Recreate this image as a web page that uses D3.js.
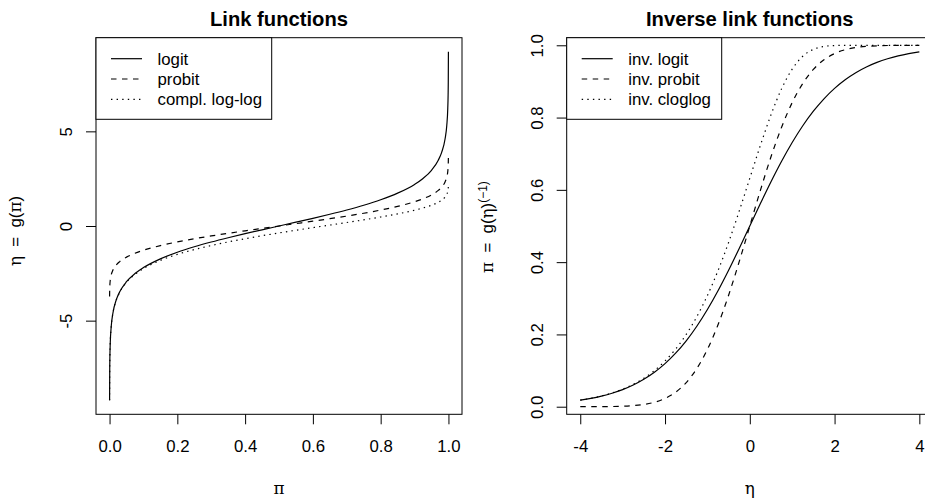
<!DOCTYPE html>
<html>
<head>
<meta charset="utf-8">
<script src="https://cdn.jsdelivr.net/npm/d3@7"></script>
<style>
  body { margin: 0; background: #fff; overflow: hidden; }
  svg { display: block; font-family: "Liberation Sans", Arial, sans-serif; }
  .ylab { white-space: pre; }
</style>
</head>
<body>
<script>
// valeurs de pi (panneau gauche)
const piVals = [0.0001, 0.0005, 0.001, 0.002, 0.005, 0.01, 0.02, 0.03, 0.05, 0.075, 0.1, 0.15, 0.2, 0.25, 0.3, 0.35, 0.4, 0.45, 0.5,
  0.55, 0.6, 0.65, 0.7, 0.75, 0.8, 0.85, 0.9, 0.925, 0.95, 0.97, 0.98, 0.99, 0.995, 0.998, 0.999, 0.9995, 0.9999];
const logitVals = [-9.2102, -7.6004, -6.9068, -6.2126, -5.2933, -4.5951, -3.8918, -3.4761, -2.9444, -2.5123, -2.1972, -1.7346, -1.3863, -1.0986, -0.8473, -0.6190, -0.4055, -0.2007, 0,
  0.2007, 0.4055, 0.6190, 0.8473, 1.0986, 1.3863, 1.7346, 2.1972, 2.5123, 2.9444, 3.4761, 3.8918, 4.5951, 5.2933, 6.2126, 6.9068, 7.6004, 9.2102];
const probitVals = [-3.7190, -3.2905, -3.0902, -2.8782, -2.5758, -2.3263, -2.0537, -1.8808, -1.6449, -1.4395, -1.2816, -1.0364, -0.8416, -0.6745, -0.5244, -0.3853, -0.2533, -0.1257, 0,
  0.1257, 0.2533, 0.3853, 0.5244, 0.6745, 0.8416, 1.0364, 1.2816, 1.4395, 1.6449, 1.8808, 2.0537, 2.3263, 2.5758, 2.8782, 3.0902, 3.2905, 3.7190];
const cloglogVals = [-9.2103, -7.6007, -6.9073, -6.2136, -5.2958, -4.6001, -3.9018, -3.4913, -2.9702, -2.5516, -2.2504, -1.8170, -1.4999, -1.2459, -1.0309, -0.8422, -0.6717, -0.5144, -0.3665,
  -0.2250, -0.0874, 0.0486, 0.1856, 0.3266, 0.4759, 0.6403, 0.8340, 0.9518, 1.0972, 1.2546, 1.3640, 1.5272, 1.6674, 1.8269, 1.9326, 2.0283, 2.2203];

// valeurs de eta (panneau droit)
const etaVals = [-4, -3.75, -3.5, -3.25, -3, -2.75, -2.5, -2.25, -2, -1.75, -1.5, -1.25, -1, -0.75, -0.5, -0.25, 0,
  0.25, 0.5, 0.75, 1, 1.25, 1.5, 1.75, 2, 2.25, 2.5, 2.75, 3, 3.25, 3.5, 3.75, 4];
const invLogitVals = [0.01799, 0.02298, 0.02931, 0.03732, 0.04743, 0.06008, 0.07586, 0.09535, 0.11920, 0.14805, 0.18243, 0.22270, 0.26894, 0.32082, 0.37754, 0.43782, 0.5,
  0.56218, 0.62246, 0.67918, 0.73106, 0.77730, 0.81757, 0.85195, 0.88080, 0.90465, 0.92414, 0.93992, 0.95257, 0.96268, 0.97069, 0.97702, 0.98201];
const invProbitVals = [0.0000317, 0.0000884, 0.000233, 0.000577, 0.00135, 0.00298, 0.00621, 0.01222, 0.02275, 0.04006, 0.06681, 0.10565, 0.15866, 0.22663, 0.30854, 0.40129, 0.5,
  0.59871, 0.69146, 0.77337, 0.84134, 0.89435, 0.93319, 0.95994, 0.97725, 0.98778, 0.99379, 0.99702, 0.99865, 0.99942, 0.99977, 0.99991, 0.99997];
const invCloglogVals = [0.018149, 0.023244, 0.029746, 0.038032, 0.048568, 0.061927, 0.078806, 0.100035, 0.126577, 0.159513, 0.199989, 0.249115, 0.307799, 0.376510, 0.454760, 0.541034, 0.632121,
  0.723071, 0.807704, 0.879608, 0.934012, 0.969521, 0.988686, 0.996832, 0.999382, 0.999924, 0.999995, 1.0, 1.0, 1.0, 1.0, 1.0, 1.0];

// graduations
const piTicks = [0, 0.2, 0.4, 0.6, 0.8, 1.0];
const etaLinkTicks = [-5, 0, 5];
const etaTicks = [-4, -2, 0, 2, 4];
const probTicks = [0, 0.2, 0.4, 0.6, 0.8, 1.0];

const linkLabels = ["logit", "probit", "compl. log-log"];
const invLabels = ["inv. logit", "inv. probit", "inv. cloglog"];
const dashes = [null, "5.5,5.5", "1.4,4.2"];

const fs = 16.8;
const svg = d3.select("body").append("svg").attr("width", 925).attr("height", 498);

// format à la R : tiret simple pour les négatifs
const rFmt = spec => { const f = d3.format(spec); return d => f(d).replace("−", "-"); };

function panel(opts) {
  const x = d3.scaleLinear().domain(opts.xDomain).range([opts.left, opts.right]);
  const y = d3.scaleLinear().domain(opts.yDomain).range([opts.bottom, opts.top]);
  const g = svg.append("g");

  // courbes
  const line = d3.line().x(d => x(d[0])).y(d => y(d[1])).curve(d3.curveMonotoneX);
  opts.series.forEach((s, i) => {
    g.append("path")
      .datum(opts.xs.map((v, j) => [v, s[j]]))
      .attr("d", line)
      .attr("fill", "none")
      .attr("stroke", "#000")
      .attr("stroke-width", 1.2)
      .attr("stroke-dasharray", dashes[i]);
  });

  // axe x
  const xa = g.append("g").attr("transform", `translate(0,${opts.bottom})`)
    .call(d3.axisBottom(x).tickValues(opts.xTicks).tickSizeInner(10).tickSizeOuter(0).tickFormat(opts.xFmt));
  xa.select(".domain").remove();
  xa.selectAll("line").attr("stroke", "#000");
  xa.selectAll("text").attr("y", 32).attr("dy", "0.35em")
    .style("font-size", fs + "px").attr("fill", "#000").attr("font-family", null);

  // axe y (étiquettes tournées comme R)
  const ya = g.append("g").attr("transform", `translate(${opts.left},0)`)
    .call(d3.axisLeft(y).tickValues(opts.yTicks).tickSizeInner(10).tickSizeOuter(0).tickFormat(opts.yFmt));
  ya.select(".domain").remove();
  ya.selectAll("line").attr("stroke", "#000");
  ya.selectAll("text")
    .attr("x", null).attr("y", null).attr("dy", "0.35em")
    .attr("transform", "translate(-30,0) rotate(-90)")
    .attr("text-anchor", "middle")
    .style("font-size", fs + "px").attr("fill", "#000").attr("font-family", null);

  // cadre
  g.append("rect")
    .attr("x", opts.left).attr("y", opts.top)
    .attr("width", opts.right - opts.left).attr("height", opts.bottom - opts.top)
    .attr("fill", "none").attr("stroke", "#000").attr("stroke-width", 1);

  // titre
  g.append("text")
    .attr("x", (opts.left + opts.right) / 2).attr("y", 26)
    .attr("text-anchor", "middle")
    .style("font-size", "20.2px").style("font-weight", "bold")
    .text(opts.title);

  // légende
  const lg = g.append("g");
  lg.append("rect")
    .attr("x", opts.left).attr("y", opts.top)
    .attr("width", opts.legendW).attr("height", 81.6)
    .attr("fill", "#fff").attr("stroke", "#000").attr("stroke-width", 1);
  opts.labels.forEach((lab, i) => {
    const ly = opts.top + 21 + i * 20.3;
    lg.append("line")
      .attr("x1", opts.left + 15).attr("x2", opts.left + 46)
      .attr("y1", ly).attr("y2", ly)
      .attr("stroke", "#000").attr("stroke-width", 1.2)
      .attr("stroke-dasharray", dashes[i]);
    lg.append("text")
      .attr("x", opts.left + 61.5).attr("y", ly).attr("dy", "0.35em")
      .style("font-size", fs + "px")
      .text(lab);
  });

  return g;
}

const left = panel({
  left: 96, right: 462, top: 37.7, bottom: 414.3,
  xDomain: [-0.04, 1.04], yDomain: [-9.947, 9.947],
  xs: piVals, series: [logitVals, probitVals, cloglogVals],
  xTicks: piTicks, yTicks: etaLinkTicks,
  xFmt: rFmt(".1f"), yFmt: rFmt("d"),
  title: "Link functions", labels: linkLabels, legendW: 175.7
});

const right = panel({
  left: 566.7, right: 932.9, top: 37.7, bottom: 414.3,
  xDomain: [-4.32, 4.32], yDomain: [-0.021, 1.021],
  xs: etaVals, series: [invLogitVals, invProbitVals, invCloglogVals],
  xTicks: etaTicks, yTicks: probTicks,
  xFmt: rFmt("d"), yFmt: rFmt(".1f"),
  title: "Inverse link functions", labels: invLabels, legendW: 155
});

// titres des axes
const serif = "'DejaVu Serif', 'Liberation Serif', serif";
svg.append("text").attr("x", 279).attr("y", 488).attr("dy", "0.35em")
  .attr("text-anchor", "middle").style("font-size", fs + "px").style("font-family", serif).text("π");
svg.append("text").attr("x", 749.8).attr("y", 488).attr("dy", "0.35em")
  .attr("text-anchor", "middle").style("font-size", fs + "px").style("font-family", serif).text("η");

const yl1 = svg.append("text").attr("class", "ylab")
  .attr("transform", "translate(15,231) rotate(-90)")
  .attr("text-anchor", "middle").attr("dy", "0.35em")
  .style("font-size", fs + "px");
yl1.append("tspan").style("font-family", serif).text("η");
yl1.append("tspan").text("  =  g(");
yl1.append("tspan").style("font-family", serif).text("π");
yl1.append("tspan").text(")");

const yl2 = svg.append("text").attr("class", "ylab")
  .attr("transform", "translate(487,227) rotate(-90)")
  .attr("text-anchor", "middle").attr("dy", "0.35em")
  .style("font-size", fs + "px");
yl2.append("tspan").style("font-family", serif).text("π");
yl2.append("tspan").text("  =  g(");
yl2.append("tspan").style("font-family", serif).text("η");
yl2.append("tspan").text(")");
yl2.append("tspan").attr("dy", "-0.5em").style("font-size", "12px").text("(−1)");
</script>
</body>
</html>
